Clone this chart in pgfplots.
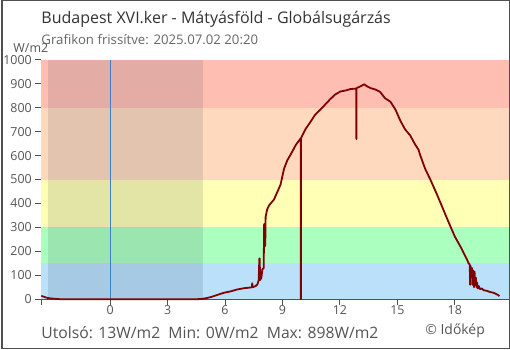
\documentclass[border=0pt]{standalone}
\usepackage{pgfplots}
\pgfplotsset{compat=1.18}
\usepackage{fontspec}
\setmainfont{Open Sans}
\definecolor{bSal}{RGB}{255,190,178}
\definecolor{bPea}{RGB}{255,217,190}
\definecolor{bYel}{RGB}{255,255,181}
\definecolor{bGre}{RGB}{171,255,191}
\definecolor{bBlu}{RGB}{186,224,250}
\definecolor{night}{RGB}{40,60,80}
\definecolor{midn}{RGB}{58,130,200}
\definecolor{dred}{RGB}{128,0,0}
\definecolor{axg}{RGB}{80,80,80}
\definecolor{txg}{RGB}{85,85,85}
\begin{document}
\begin{tikzpicture}[x=1bp,y=1bp]
\fill[white] (0,0) rectangle (510,350);
\draw[axg,line width=1.5bp] (0.75,0.75) rectangle (509.25,349.25);
\node[anchor=base west,inner sep=0,text={rgb,255:red,51;green,51;blue,51},font=\fontsize{16.1}{19}\selectfont] at (40,326) {Budapest XVI.ker - Mátyásföld - Globálsugárzás};
\node[anchor=base west,inner sep=0,text={rgb,255:red,102;green,102;blue,102},font=\fontsize{13.3}{16}\selectfont] at (40,305) {Grafikon frissítve: 2025.07.02 20:20};
\node[anchor=base west,inner sep=0,text=txg,font=\fontsize{12.5}{15}\selectfont] at (12,297.5) {W/m2};
\node[anchor=base west,inner sep=0,text=txg,font=\fontsize{15.8}{19}\selectfont] at (40,11) {Utolsó: 13W/m2\ \ Min: 0W/m2\ \ Max: 898W/m2};
\node[anchor=base west,inner sep=0,text=txg,font=\fontsize{14}{17}\selectfont] at (425,15) {© Időkép};
\begin{axis}[
  at={(40bp,50bp)}, anchor=south west,
  scale only axis, width=469bp, height=240bp,
  xmin=-3.6, xmax=20.83, ymin=0, ymax=1000,
  axis x line=bottom, axis y line=left,
  axis line style={axg,line width=1bp,-},
  xtick={-3.6,0,3,6,9,12,15,18},
  xticklabels={,0,3,6,9,12,15,18},
  ytick={0,100,...,1000},
  yticklabel style={/pgf/number format/1000 sep={}},
  xtick align=center, ytick align=outside,
  major tick length=6bp,
  x tick style={axg,line width=1bp,/pgfplots/major tick length=12bp},
  y tick style={axg,line width=1bp},
  tick label style={text=txg,font=\fontsize{12.5}{15}\selectfont},
  /pgf/number format/assume math mode=true,
  clip=false,
]
\fill[bBlu] (axis cs:-3.6,0) rectangle (axis cs:20.83,150);
\fill[bGre] (axis cs:-3.6,150) rectangle (axis cs:20.83,300);
\fill[bYel] (axis cs:-3.6,300) rectangle (axis cs:20.83,500);
\fill[bPea] (axis cs:-3.6,500) rectangle (axis cs:20.83,800);
\fill[bSal] (axis cs:-3.6,800) rectangle (axis cs:20.83,1000);
\fill[night,opacity=0.13] (axis cs:-3.23,0) rectangle (axis cs:4.84,1000);
\draw[midn,line width=0.8bp] (axis cs:0,0) -- (axis cs:0,1000);
\addplot[dred,line width=1.8bp,line join=round] coordinates {
(-3.6,14) (-3.45,10) (-3.3,6) (-3.1,3) (-2.9,2) (-2.6,0) (4.5,0) (4.75,1)
(5.0,4) (5.3,10) (5.6,18) (5.94,27) (6.3,33) (6.6,40) (6.98,46) (7.34,49)
(7.4,50) (7.42,67) (7.44,50) (7.6,55) (7.69,62) (7.76,80) (7.79,170) (7.81,170) (7.83,80)
(7.9,90) (7.95,125) (8.02,130) (8.04,310) (8.06,315) (8.08,222) (8.1,222) (8.12,345)
(8.2,375) (8.3,392) (8.56,417) (8.9,479) (9.08,545) (9.25,580) (9.43,605)
(9.7,645) (9.95,672) (9.96,0) (9.97,674) (10.2,710) (10.47,742) (10.7,770)
(10.99,793) (11.25,815) (11.51,837) (11.75,855) (12.03,868) (12.3,872)
(12.55,878) (12.85,880) (12.86,669) (12.87,882) (13.07,889) (13.27,898)
(13.4,890) (13.6,882) (13.85,876) (14.1,866) (14.35,840) (14.64,825)
(14.9,792) (15.16,745) (15.4,710) (15.68,683) (15.9,650) (16.1,625)
(16.2,600) (16.45,545) (16.72,500) (17.0,450) (17.24,405) (17.5,355)
(17.76,306) (18.0,262) (18.28,222) (18.45,195) (18.63,167) (18.72,150)
(18.78,145) (18.8,60) (18.82,140) (18.86,110) (18.9,130) (18.93,60)
(18.96,120) (19.0,50) (19.03,115) (19.06,60) (19.1,90) (19.13,50)
(19.16,70) (19.2,45) (19.25,55) (19.32,42) (19.4,45) (19.5,38) (19.67,35)
(19.85,30) (20.02,27) (20.15,22) (20.25,18) (20.33,13)
};
\end{axis}
\end{tikzpicture}
\end{document}
